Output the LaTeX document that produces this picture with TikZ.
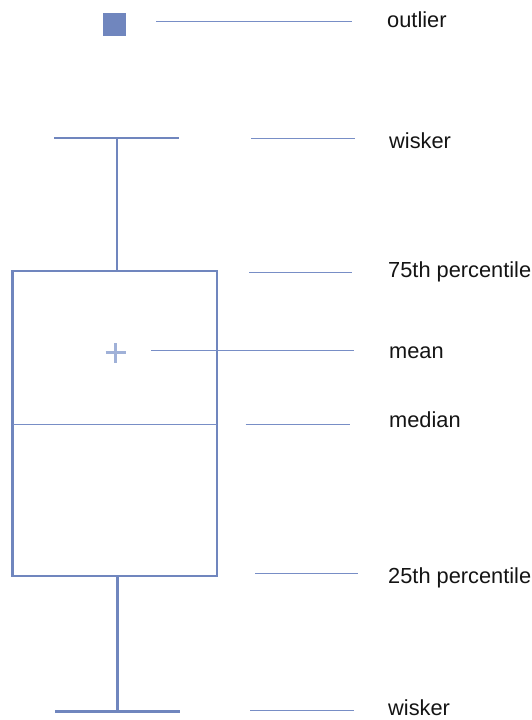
\documentclass[tikz,border=0pt]{standalone}
\usepackage{fontspec}
\setmainfont{Liberation Sans}
\definecolor{boxblue}{RGB}{112,134,190}
\definecolor{leadblue}{RGB}{120,142,198}
\definecolor{meanblue}{RGB}{160,177,216}
\definecolor{labeltext}{RGB}{20,20,20}
\begin{document}
\begin{tikzpicture}[x=1pt,y=-1pt,
  boxline/.style={draw=boxblue,line width=2.4pt},
  capline/.style={draw=boxblue,line width=2.8pt},
  leader/.style={draw=leadblue,line width=0.9pt},
  meanplus/.style={draw=meanblue,line width=2.6pt},
  lbl/.style={anchor=west,inner sep=0pt,text=labeltext,font=\fontsize{21.8}{25}\selectfont}]
\useasboundingbox (0,0) rectangle (531,720);

% box
\coordinate (boxtl) at (12.5,271);
\coordinate (boxbr) at (217,576);
\draw[boxline] (boxtl) rectangle (boxbr);
% median
\coordinate (medL) at (12.5,424);
\coordinate (medR) at (217,424);
\draw[leader] (medL) -- (medR);
% whiskers
\coordinate (topcapL) at (54,138);
\coordinate (topcapR) at (179,138);
\coordinate (topstem) at (117,138);
\coordinate (boxtop) at (117,271);
\draw[capline] (topcapL) -- (topcapR);
\draw[boxline] (topstem) -- (boxtop);
\coordinate (botcapL) at (55,711.5);
\coordinate (botcapR) at (180,711.5);
\coordinate (botstem) at (117.5,711.5);
\coordinate (boxbot) at (117.5,576);
\draw[capline] (botcapL) -- (botcapR);
\draw[boxline] (boxbot) -- (botstem);
% outlier
\node[fill=boxblue,minimum size=22.5pt,inner sep=0pt] (outlier) at (114.5,24.5) {};
% mean marker
\coordinate (mean) at (115.5,352.5);
\draw[meanplus] ([xshift=-10pt]mean) -- ([xshift=10pt]mean)
                ([yshift=-10pt]mean) -- ([yshift=10pt]mean);

% labels
\node[lbl] (tOut)  at (387,20)  {outlier};
\node[lbl] (tWtop) at (389,141) {wisker};
\node[lbl] (t75)   at (388,272) {75th percentile};
\node[lbl] (tMean) at (389,353) {mean};
\node[lbl] (tMed)  at (389,420) {median};
\node[lbl] (t25)   at (388,578) {25th percentile};
\node[lbl] (tWbot) at (388,708) {wisker};

% leader lines
\coordinate (lOutA) at (156,21.5);  \coordinate (lOutB) at (352,21.5);
\coordinate (lWtA) at (251,138);    \coordinate (lWtB) at (355,138);
\coordinate (l75A) at (249,272.5);  \coordinate (l75B) at (352,272.5);
\coordinate (lMeA) at (151,350.5);  \coordinate (lMeB) at (354,350.5);
\coordinate (lMdA) at (245.5,424);  \coordinate (lMdB) at (349.5,424);
\coordinate (l25A) at (255,573.5);  \coordinate (l25B) at (358,573.5);
\coordinate (lWbA) at (250,710);    \coordinate (lWbB) at (353.5,710);
\draw[leader] (lOutA) -- (lOutB);
\draw[leader] (lWtA) -- (lWtB);
\draw[leader] (l75A) -- (l75B);
\draw[leader] (lMeA) -- (lMeB);
\draw[leader] (lMdA) -- (lMdB);
\draw[leader] (l25A) -- (l25B);
\draw[leader] (lWbA) -- (lWbB);
\end{tikzpicture}
\end{document}
